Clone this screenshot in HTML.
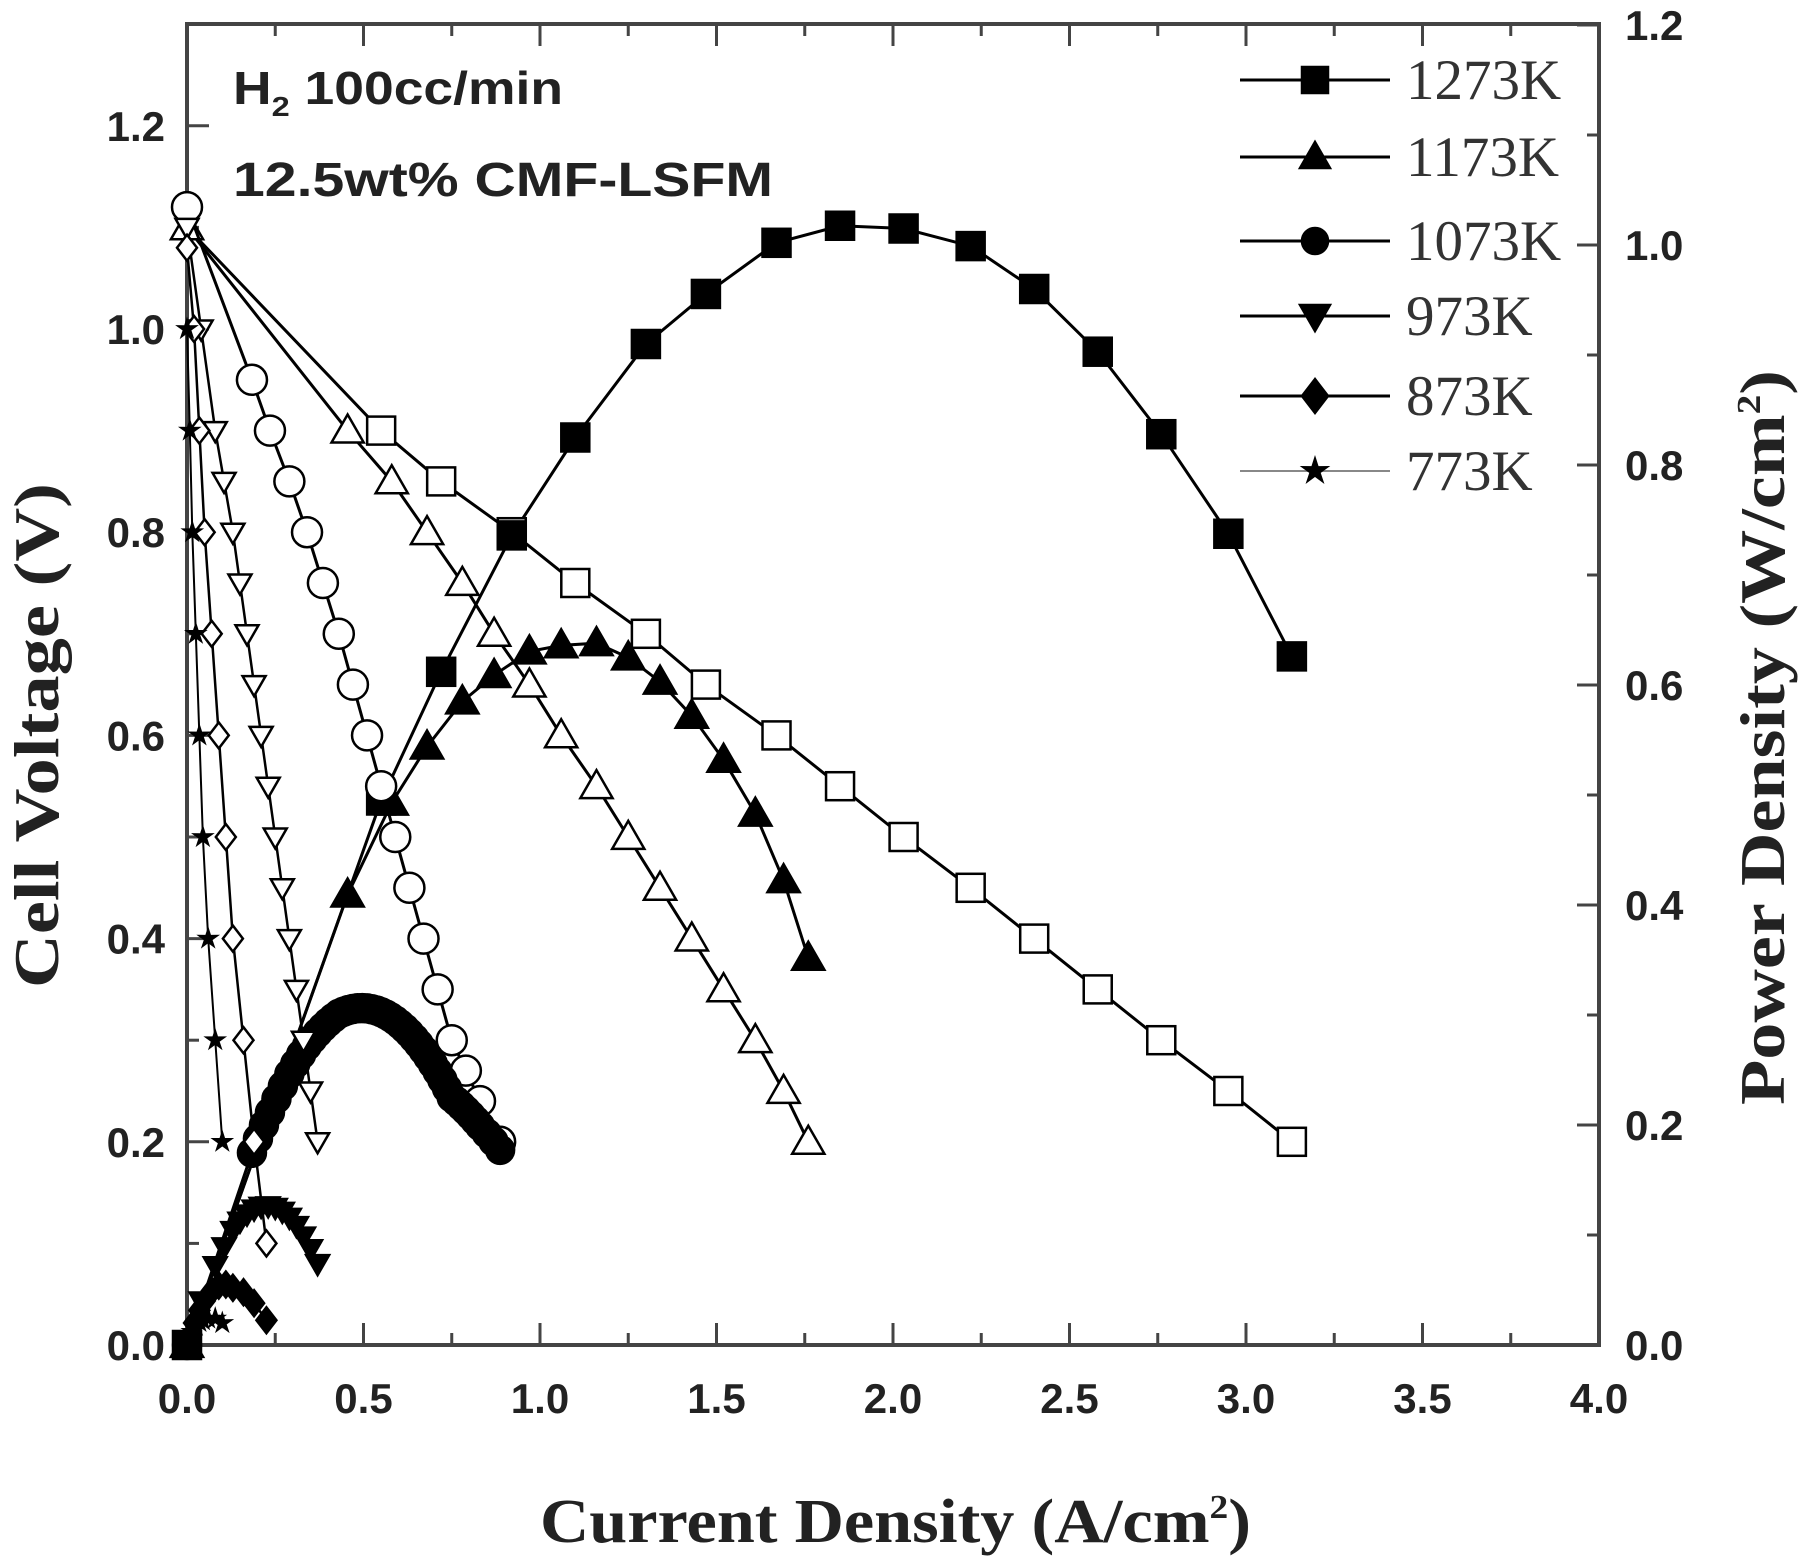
<!DOCTYPE html>
<html><head><meta charset="utf-8"><style>
html,body{margin:0;padding:0;background:#fff;}
svg{display:block;}
</style></head><body>
<svg id="c" width="1800" height="1559" xmlns="http://www.w3.org/2000/svg"></svg>
<script>
const svg=document.getElementById('c');
let h='';
const X0=187,XS=353,Y0=1345,VS=1016,PS=1100;
const px=i=>X0+i*XS, pyV=v=>Y0-v*VS, pyP=p=>Y0-p*PS;
h+=`<rect x="187" y="24" width="1412" height="1321" fill="none" stroke="#444" stroke-width="4"/>`;
for(let k=0;k<=16;k++){const x=px(k*0.25),L=k%2?12:22;
 h+=`<line x1="${x}" y1="1345" x2="${x}" y2="${1345-L}" stroke="#444" stroke-width="3"/>`;
 h+=`<line x1="${x}" y1="24" x2="${x}" y2="${24+L}" stroke="#444" stroke-width="3"/>`;
 if(k%2==0) h+=`<text x="${x}" y="1413" font-family="Liberation Sans,sans-serif" font-weight="bold" font-size="42" text-anchor="middle" fill="#222">${(k*0.25).toFixed(1)}</text>`;}
for(let k=0;k<=12;k++){const y=pyV(k*0.1),L=k%2?12:22;
 h+=`<line x1="187" y1="${y}" x2="${187+L}" y2="${y}" stroke="#444" stroke-width="3"/>`;
 if(k%2==0) h+=`<text x="165" y="${y+15}" font-family="Liberation Sans,sans-serif" font-weight="bold" font-size="42" text-anchor="end" fill="#222">${(k*0.1).toFixed(1)}</text>`;}
for(let k=0;k<=12;k++){const y=pyP(k*0.1),L=k%2?12:22;
 h+=`<line x1="1599" y1="${y}" x2="${1599-L}" y2="${y}" stroke="#444" stroke-width="3"/>`;
 if(k%2==0) h+=`<text x="1625" y="${y+15}" font-family="Liberation Sans,sans-serif" font-weight="bold" font-size="42" fill="#222">${(k*0.1).toFixed(1)}</text>`;}
h+=`<text x="540" y="1542" font-family="Liberation Serif,serif" font-weight="bold" font-size="62" fill="#222" textLength="711" lengthAdjust="spacingAndGlyphs">Current Density (A/cm<tspan dy="-24" font-size="34">2</tspan><tspan dy="24">)</tspan></text>`;
h+=`<text transform="translate(58,988) rotate(-90)" font-family="Liberation Serif,serif" font-weight="bold" font-size="64" fill="#222" textLength="505" lengthAdjust="spacingAndGlyphs">Cell Voltage (V)</text>`;
h+=`<text transform="translate(1784,1105) rotate(-90)" font-family="Liberation Serif,serif" font-weight="bold" font-size="64" fill="#222" textLength="735" lengthAdjust="spacingAndGlyphs">Power Density (W/cm<tspan dy="-24" font-size="34">2</tspan><tspan dy="24">)</tspan></text>`;
h+=`<text x="233" y="104" font-family="Liberation Sans,sans-serif" font-weight="bold" font-size="46" fill="#222" textLength="330" lengthAdjust="spacingAndGlyphs">H<tspan dy="12" font-size="28">2</tspan><tspan dy="-12"> 100cc/min</tspan></text>`;
h+=`<text x="233" y="196" font-family="Liberation Sans,sans-serif" font-weight="bold" font-size="48" fill="#222" textLength="540" lengthAdjust="spacingAndGlyphs">12.5wt% CMF-LSFM</text>`;
function mk(t,x,y,s,fill){
 const f=fill?'#000':'#fff',st=`fill="${f}" stroke="#000" stroke-width="2.5"`;
 if(t=='s')return `<rect x="${x-s}" y="${y-s}" width="${2*s}" height="${2*s}" ${st}/>`;
 if(t=='c')return `<circle cx="${x}" cy="${y}" r="${s}" ${st}/>`;
 if(t=='t')return `<polygon points="${x},${y-s*1.15} ${x-s*1.15},${y+s*0.85} ${x+s*1.15},${y+s*0.85}" ${st}/>`;
 if(t=='v')return `<polygon points="${x},${y+s*1.15} ${x-s*1.15},${y-s*0.85} ${x+s*1.15},${y-s*0.85}" ${st}/>`;
 if(t=='d')return `<polygon points="${x},${y-s*1.3} ${x-s},${y} ${x},${y+s*1.3} ${x+s},${y}" ${st}/>`;
 if(t=='*'){let p='';for(let i=0;i<10;i++){const r=i%2?s*0.45:s*1.2,a=-Math.PI/2+i*Math.PI/5;p+=`${x+r*Math.cos(a)},${y+r*Math.sin(a)} `;}return `<polygon points="${p}" fill="#000" stroke="#000" stroke-width="1"/>`;}
}
function series(I,V,t,s,lw){
 let pv='',pp='',mv='',mp='';
 I.forEach((i,k)=>{const v=V[k];pv+=`${px(i)},${pyV(v)} `;pp+=`${px(i)},${pyP(i*v)} `;
  if(k>0||t!='s'){mv+=mk(t,px(i),pyV(v),s,false);} mp+=mk(t,px(i),pyP(i*v),s,true);});
 h+=`<polyline points="${pv}" fill="none" stroke="#000" stroke-width="${lw}"/>`;
 h+=`<polyline points="${pp}" fill="none" stroke="#000" stroke-width="${lw}"/>`;
 h+=mv+mp;
}
{let I=[0,.55,.72,.92,1.1,1.3,1.47,1.67,1.85,2.03,2.22,2.4,2.58,2.76,2.95,3.13];
 let V=[1.1,.9,.85,.8,.75,.7,.65,.6,.55,.5,.45,.4,.35,.3,.25,.2];
 series(I,V,'s',14,3);}
{let I=[0,.455,.58,.68,.78,.87,.97,1.06,1.16,1.25,1.34,1.43,1.52,1.61,1.69,1.76];
 let V=[1.1,.9,.85,.8,.75,.7,.65,.6,.55,.5,.45,.4,.35,.3,.25,.2];
 series(I,V,'t',14,3);}
{let I=[0,.184,.235,.29,.34,.385,.43,.47,.51,.55,.59,.63,.67,.71,.75,.79,.83,.887];
 let V=[1.12,.95,.9,.85,.8,.75,.7,.65,.6,.55,.5,.45,.4,.35,.3,.27,.24,.2];
 let I2=[],V2=[];for(let k=0;k<I.length-1;k++){for(let j=0;j<(k==0?1:3);j++){const f=j/(k==0?1:3);I2.push(I[k]+(I[k+1]-I[k])*f);V2.push(V[k]+(V[k+1]-V[k])*f);}}
 I2.push(.887);V2.push(.2);
 let pv='',pp='',m='';
 I.forEach((i,k)=>{pv+=`${px(i)},${pyV(V[k])} `;m+=mk('c',px(i),pyV(V[k]),15,false);});
 I2.forEach((i,k)=>{pp+=`${px(i)},${pyP(i*V2[k])} `;m+=mk('c',px(i),pyP(i*V2[k]),14,true);});
 h+=`<polyline points="${pv}" fill="none" stroke="#000" stroke-width="3"/><polyline points="${pp}" fill="none" stroke="#000" stroke-width="3"/>`+m;}
{let I=[0,.04,.08,.105,.13,.15,.17,.19,.21,.23,.25,.27,.29,.31,.33,.35,.37];
 let V=[1.1,1.0,.9,.85,.8,.75,.7,.65,.6,.55,.5,.45,.4,.35,.3,.25,.2];
 series(I,V,'v',10,2.5);}
{let I=[0,.02,.035,.05,.07,.09,.11,.13,.16,.19,.225];
 let V=[1.08,1.0,.9,.8,.7,.6,.5,.4,.3,.2,.1];
 series(I,V,'d',10,2.5);}
{let I=[0,.008,.015,.025,.035,.045,.06,.08,.1];
 let V=[1.0,.9,.8,.7,.6,.5,.4,.3,.2];
 series(I,V,'*',9,2);}
const lg=[['s','1273K'],['t','1173K'],['c','1073K'],['v','973K'],['d','873K'],['*','773K']];
const ly=[80,157,241,316,396,471];
lg.forEach((g,k)=>{const y=ly[k];
 h+=`<line x1="1240" y1="${y}" x2="1390" y2="${y}" stroke="${k==5?'#888':'#000'}" stroke-width="${k==5?2:3}"/>`;
 h+=mk(g[0],1315,y,g[0]=='*'?12:13,true);
 h+=`<text x="1406" y="${y+19}" font-family="Liberation Serif,serif" font-size="57" fill="#333">${g[1]}</text>`;});
svg.innerHTML=h;
</script>
</body></html>
